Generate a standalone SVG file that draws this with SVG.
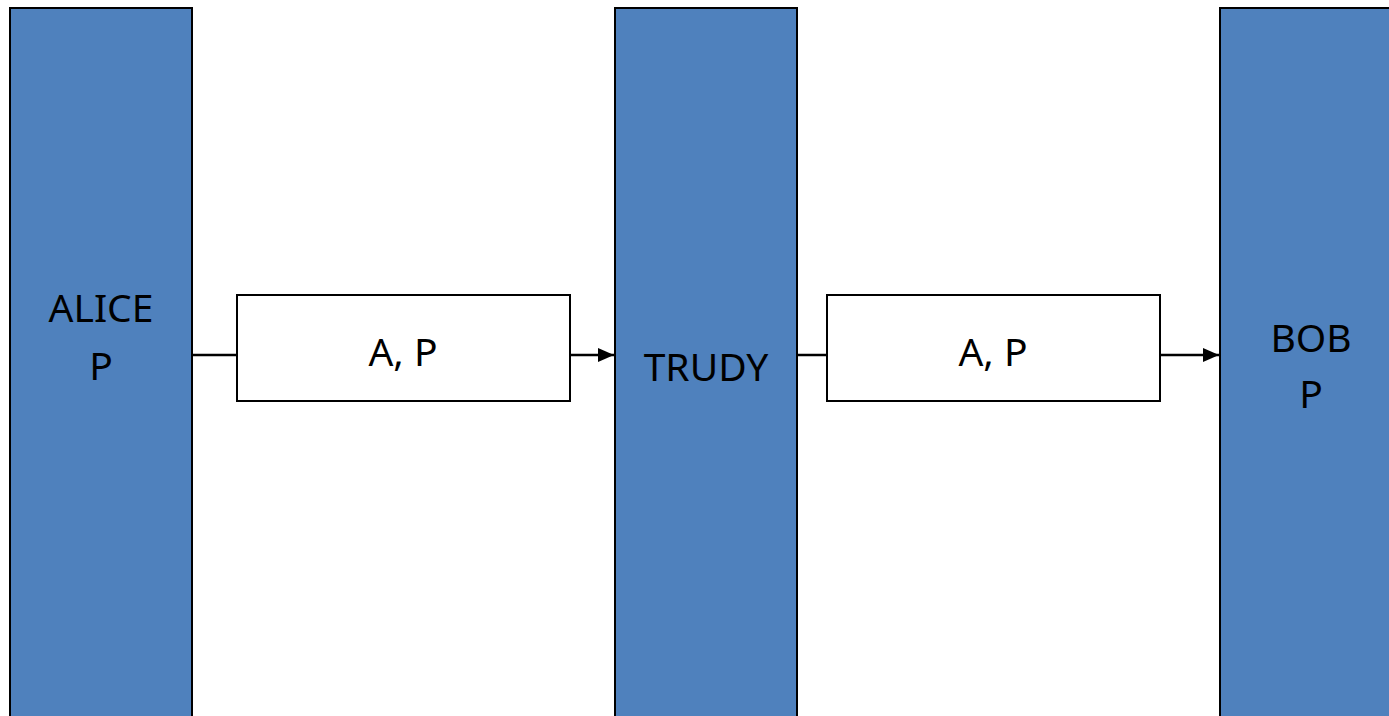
<svg xmlns="http://www.w3.org/2000/svg" width="1389" height="716" viewBox="0 0 1389 716">
<style>
.bar{fill:#4f81bd;stroke:#000;stroke-width:2}
.msg{fill:#fff;stroke:#000;stroke-width:2}
.t{font-family:"Noto Sans","Open Sans",sans-serif;font-size:39px;fill:#000;text-anchor:middle}
.c{stroke:#000;stroke-width:2.5;fill:none}
</style>
<defs>
<marker id="ah" markerWidth="16" markerHeight="14" refX="16" refY="7" orient="auto" markerUnits="userSpaceOnUse">
<path d="M0,0 L16,7 L0,14 Z" fill="#000"/>
</marker>
</defs>
<rect x="0" y="0" width="1389" height="716" fill="#fff"/>
<g id="connectors">
<path class="c" d="M192,355 H237"/>
<path class="c" d="M570,355 H614" marker-end="url(#ah)"/>
<path class="c" d="M797,355 H827"/>
<path class="c" d="M1160,355 H1219" marker-end="url(#ah)"/>
</g>
<g id="alice">
<rect class="bar" x="10" y="8" width="182" height="720"/>
<text class="t" x="101" y="322">ALICE</text>
<text class="t" x="101" y="380">P</text>
</g>
<g id="msg1">
<rect class="msg" x="237" y="295" width="333" height="106"/>
<text class="t" x="403" y="366">A, P</text>
</g>
<g id="trudy">
<rect class="bar" x="615" y="8" width="182" height="720"/>
<text class="t" x="706" y="381">TRUDY</text>
</g>
<g id="msg2">
<rect class="msg" x="827" y="295" width="333" height="106"/>
<text class="t" x="993" y="366">A, P</text>
</g>
<g id="bob">
<rect class="bar" x="1220" y="8" width="182" height="720"/>
<text class="t" x="1311" y="352">BOB</text>
<text class="t" x="1311" y="408">P</text>
</g>
</svg>
